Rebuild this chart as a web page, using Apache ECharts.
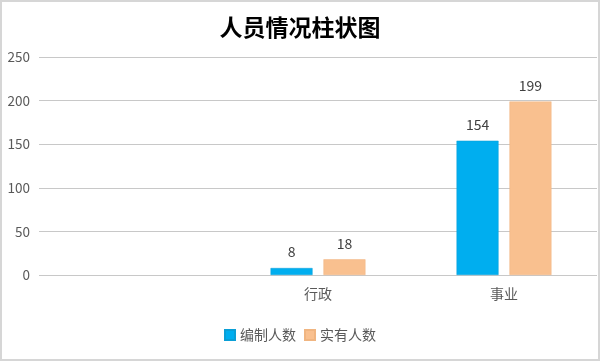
<!DOCTYPE html>
<html><head><meta charset="utf-8">
<script src="https://cdn.jsdelivr.net/npm/echarts@6/dist/echarts.min.js"></script>
<style>
html,body{margin:0;padding:0;background:#fff;}
#frame{position:absolute;left:0;top:0;width:596px;height:357px;border:2px solid #d6d6d6;}
#c{position:absolute;left:0;top:0;width:600px;height:361px;}
</style></head>
<body>
<div id="frame"></div>
<div id="c"></div>
<script>
const categories = ['', '行政', '事业'];
const planned = [null, 8, 154];
const actual = [null, 18, 199];
const seriesNames = ['编制人数', '实有人数'];
const yTicks = [0, 50, 100, 150, 200, 250];

const chart = echarts.init(document.getElementById('c'));
const font = '"Microsoft YaHei","Noto Sans CJK SC",sans-serif';
chart.setOption({
  animation: false,
  title: {
    text: '人员情况柱状图', left: 'center', top: 11,
    textStyle: { fontSize: 23, fontWeight: 'bold', color: '#000', fontFamily: '"Noto Sans CJK SC",serif' }
  },
  legend: {
    bottom: 14, left: 'center', itemWidth: 10, itemHeight: 10, itemGap: 8,
    icon: 'rect',
    textStyle: { fontSize: 14, color: '#595959', fontFamily: font },
    data: seriesNames
  },
  grid: { left: 39, right: 3, top: 57, bottom: 86 },
  xAxis: {
    type: 'category', data: categories,
    axisLine: { show: false }, axisTick: { show: false },
    axisLabel: { fontSize: 14, color: '#595959', margin: 12, fontFamily: font }
  },
  yAxis: {
    type: 'value', min: yTicks[0], max: yTicks[yTicks.length - 1], interval: 50,
    axisLine: { show: false }, axisTick: { show: false },
    axisLabel: { fontSize: 13.5, color: '#595959', margin: 9, fontFamily: font },
    splitLine: { lineStyle: { color: '#c8c8c8', width: 1 } }
  },
  series: [
    { name: seriesNames[0], type: 'bar', data: planned, barWidth: 42, barGap: '26%',
      itemStyle: { color: '#00AEEF', borderColor: '#0a9fd6', borderWidth: 0.5 },
      label: { show: true, position: 'top', distance: 9, fontSize: 14, color: '#404040', fontFamily: font } },
    { name: seriesNames[1], type: 'bar', data: actual, barWidth: 42,
      itemStyle: { color: '#F9C08F', borderColor: '#f0b581', borderWidth: 0.5 },
      label: { show: true, position: 'top', distance: 9, fontSize: 14, color: '#404040', fontFamily: font } }
  ]
});
</script>
</body></html>
